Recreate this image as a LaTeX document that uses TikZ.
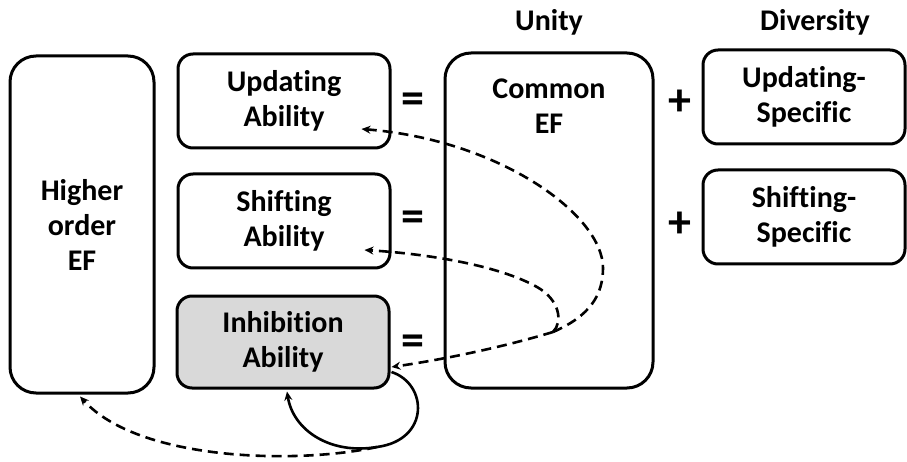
\documentclass[tikz,border=0pt]{standalone}
\usepackage{fontspec}
\setmainfont[Ligatures=NoCommon]{Carlito}
\usetikzlibrary{arrows.meta}
\usetikzlibrary{positioning}
\usetikzlibrary{calc}

\begin{document}
\begin{tikzpicture}[x=1pt,y=-1pt,
	box/.style={draw, line width=3pt, rounded corners=15pt, align=center, inner sep=0pt,
		font=\fontsize{30}{35}\selectfont\bfseries},
	tallbox/.style={box, rounded corners=26pt},
	head/.style={align=center, font=\fontsize{30}{35}\selectfont\bfseries},
	sign/.style={font=\fontsize{46}{46}\selectfont\bfseries},
	link/.style={line width=2.6pt, dash pattern=on 10pt off 6pt, -{Stealth[length=9pt,width=8pt]}},
	selfloop/.style={line width=2.6pt, -{Stealth[length=9pt,width=8pt]}}]
	\useasboundingbox (0,0) rectangle (907,462);
	% left column
	\node[tallbox, minimum width=144pt, minimum height=337pt] (higher) at (82,224.5) {Higher\\order\\EF};
	% abilities
	\node[box, minimum width=212pt, minimum height=94pt] (upd) at (284,101) {Updating\\Ability};
	\node[box, minimum width=212pt, minimum height=94pt] (shf) at (284,221) {Shifting\\Ability};
	\node[box, fill=gray!30, minimum width=212pt, minimum height=92pt] (inh) at (283,342) {Inhibition\\Ability};
	% unity
	\node[head] (unity) at (549,22) {Unity};
	\node[tallbox, minimum width=208pt, minimum height=335pt] (common) at (549,220.5) {};
	\node[head] (commonlbl) at (549,106) {Common\\EF};
	% diversity
	\node[head] (diversity) at (815,22) {Diversity};
	\node[box, minimum width=202pt, minimum height=94pt] (updspec) at (804,97) {Updating-\\Specific};
	\node[box, minimum width=202pt, minimum height=94pt] (shfspec) at (804,217) {Shifting-\\Specific};
	% signs
	\node[sign] (eqa) at (413,103) {=};
	\node[sign] (eqb) at (413,221) {=};
	\node[sign] (eqc) at (413,345) {=};
	\node[sign] (plusa) at (680,103) {+};
	\node[sign] (plusb) at (680,225) {+};
	% dashed arrows
	\coordinate (split) at (553,332);
	\coordinate (loopjoin) at (377,447);
	\draw[link] (split) .. controls (590,316) and (603,295) .. (603,268)
		.. controls (603,215) and (500,140) .. ($(upd.east)+(-30,28)$);
	\draw[link] (split) .. controls (563,322) and (560,300) .. (537,287)
		.. controls (500,266) and (430,254) .. ($(shf.east)+(-27,29)$);
	\draw[link] (split) .. controls (500,348) and (440,360) .. ($(inh.east)+(1,25)$);
	\draw[selfloop] ($(inh.east)+(1,30)$) .. controls (428,384) and (430,440) .. (loopjoin)
		.. controls (330,455) and (293,430) .. ($(inh.south)+(4,2)$);
	\draw[link] (loopjoin) .. controls (300,464) and (140,462) .. ($(higher.south)+(-2,2)$);
\end{tikzpicture}
\end{document}
